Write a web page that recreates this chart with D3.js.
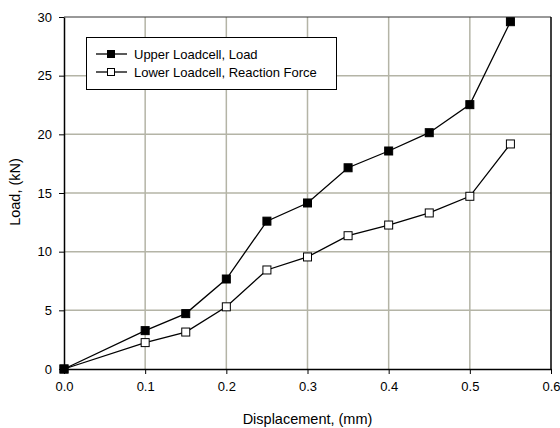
<!DOCTYPE html>
<html>
<head>
<meta charset="utf-8">
<script src="https://cdn.jsdelivr.net/npm/d3@7"></script>
<style>
  body { margin: 0; background: #fff; }
  text { font-family: "Liberation Sans", Arial, sans-serif; }
</style>
</head>
<body>
<div id="canvas"></div>
<script>
// data
const displacement = [0, 0.1, 0.15, 0.2, 0.25, 0.3, 0.35, 0.4, 0.45, 0.5, 0.55];
const upperLoad = [0, 3.27, 4.72, 7.67, 12.6, 14.15, 17.15, 18.58, 20.14, 22.53, 29.6];
const lowerLoad = [0, 2.25, 3.15, 5.3, 8.44, 9.55, 11.36, 12.27, 13.3, 14.72, 19.18];
const seriesNames = ["Upper Loadcell, Load", "Lower Loadcell, Reaction Force"];
const xTicks = [0, 0.1, 0.2, 0.3, 0.4, 0.5, 0.6];
const yTicks = [0, 5, 10, 15, 20, 25, 30];

const width = 560;
const height = 428;
const margin = { top: 17, left: 64, bottom: 59, right: 9 };
const iwidth = width - margin.left - margin.right;
const iheight = height - margin.top - margin.bottom;
const gridColor = "#b4b4a6";

const svg = d3.select("#canvas").append("svg")
    .attr("width", width)
    .attr("height", height);

const g = svg.append("g").attr("transform", `translate(${margin.left},${margin.top})`);

const x = d3.scaleLinear().domain([0, 0.6]).range([0, iwidth]);
const y = d3.scaleLinear().domain([0, 30]).range([iheight, 0]);

// grid
g.append("g").selectAll("line").data(xTicks.slice(1, -1)).enter().append("line")
    .attr("x1", d => x(d)).attr("x2", d => x(d))
    .attr("y1", 0).attr("y2", iheight)
    .style("stroke", gridColor).style("stroke-width", 1.5);

g.append("g").selectAll("line").data(yTicks.slice(1, -1)).enter().append("line")
    .attr("x1", 0).attr("x2", iwidth)
    .attr("y1", d => y(d)).attr("y2", d => y(d))
    .style("stroke", gridColor).style("stroke-width", 1.5);

// frame
g.append("line").attr("x1", 0).attr("x2", iwidth).attr("y1", 0).attr("y2", 0)
    .style("stroke", "#333").style("stroke-width", 1);
g.append("line").attr("x1", iwidth).attr("x2", iwidth).attr("y1", 0).attr("y2", iheight)
    .style("stroke", "#000").style("stroke-width", 1.5);

// axes
const xAxis = g.append("g")
    .attr("transform", `translate(0, ${iheight})`)
    .call(d3.axisBottom(x).tickValues(xTicks).tickFormat(d3.format(".1f")).tickSize(5).tickSizeOuter(0));

const yAxis = g.append("g")
    .call(d3.axisLeft(y).tickValues(yTicks).tickSize(5).tickSizeOuter(0));

[xAxis, yAxis].forEach(a => {
    a.select(".domain").style("stroke", "#000").style("stroke-width", 1.5);
    a.selectAll(".tick line").style("stroke", "#000");
    a.selectAll("text").style("font-family", "Liberation Sans, Arial, sans-serif")
        .style("font-size", "13px").style("fill", "#000");
});
xAxis.selectAll("text").attr("dy", "1.1em");
yAxis.selectAll("text").attr("x", -12);

// lines and markers
const line = d3.line()
    .x(d => x(d[0]))
    .y(d => y(d[1]));

const upper = displacement.map((d, i) => [d, upperLoad[i]]);
const lower = displacement.map((d, i) => [d, lowerLoad[i]]);

[lower, upper].forEach(pts => {
    g.append("path").datum(pts)
        .attr("d", line)
        .style("fill", "none")
        .style("stroke", "#000")
        .style("stroke-width", 1.3);
});

[[lower, "#fff"], [upper, "#000"]].forEach(([pts, fill]) => {
    g.append("g").selectAll("rect").data(pts).enter().append("rect")
        .attr("x", d => x(d[0]) - 4)
        .attr("y", d => y(d[1]) - 4)
        .attr("width", 8)
        .attr("height", 8)
        .style("fill", fill)
        .style("stroke", "#000")
        .style("stroke-width", 1);
});

// legend
const legend = svg.append("g");
legend.append("rect")
    .attr("x", 86.5).attr("y", 37.5)
    .attr("width", 250).attr("height", 52)
    .style("fill", "#fff").style("stroke", "#000").style("stroke-width", 1);

const fills = ["#000", "#fff"];
seriesNames.forEach((name, i) => {
    const ly = 54 + i * 18;
    legend.append("line")
        .attr("x1", 96).attr("x2", 127).attr("y1", ly).attr("y2", ly)
        .style("stroke", "#000").style("stroke-width", 1.3);
    legend.append("rect")
        .attr("x", 107.5).attr("y", ly - 3.5).attr("width", 7).attr("height", 7)
        .style("fill", fills[i]).style("stroke", "#000");
    legend.append("text")
        .attr("x", 134).attr("y", ly + 5)
        .style("font-size", "13px")
        .text(name);
});

// axis titles
svg.append("text")
    .attr("x", margin.left + iwidth / 2)
    .attr("y", 424)
    .attr("text-anchor", "middle")
    .style("font-size", "14.5px")
    .text("Displacement, (mm)");

svg.append("text")
    .attr("transform", "translate(20, 192) rotate(-90)")
    .attr("text-anchor", "middle")
    .style("font-size", "14.5px")
    .text("Load, (kN)");
</script>
</body>
</html>
